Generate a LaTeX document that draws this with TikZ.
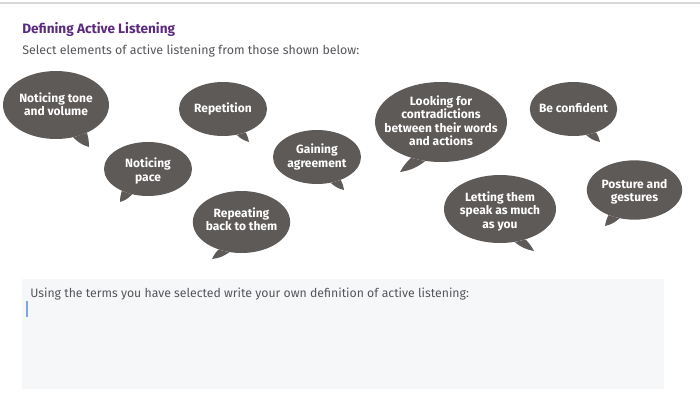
\documentclass[tikz,border=0pt]{standalone}
\usepackage{fontspec}
\setmainfont{Fira Sans}
\usetikzlibrary{shapes.geometric}
\definecolor{bubblegray}{HTML}{5E5A58}
\definecolor{titlepurple}{HTML}{5A2A7E}
\definecolor{bodygray}{HTML}{55565A}
\definecolor{panelgray}{HTML}{F6F7F9}
\definecolor{caretblue}{HTML}{7FA6E0}
\definecolor{rulegray}{HTML}{D8D8D8}
\tikzset{
  x=0.75pt,y=-0.75pt,
  bubble/.style={ellipse,fill=bubblegray,inner sep=0pt},
  bubblelabel/.style={text=white,inner sep=0pt,align=center,
    font=\fontsize{9pt}{10.1pt}\selectfont\bfseries},
  tailpart/.style={fill=bubblegray},
  titletext/.style={anchor=west,inner sep=0pt,text=titlepurple,font=\fontsize{10.2pt}{12pt}\selectfont\bfseries},
  bodytext/.style={anchor=west,inner sep=0pt,text=bodygray,font=\fontsize{9.3pt}{12pt}\selectfont},
}
\newcommand{\bubbletail}[4]{\fill[tailpart] (#1.#2) to[bend right=14] (#4) to[bend right=8] (#1.#3) -- cycle;}
\begin{document}
\begin{tikzpicture}
\useasboundingbox (0,0) rectangle (700,400);
\fill[rulegray] (0,2) rectangle (700,3.5);
\node[titletext] (title) at (22,29) {Defining Active Listening};
\node[bodytext] (sub) at (22,51) {Select elements of active listening from those shown below:};
\fill[panelgray] (22,279) rectangle (664,389);
\node[bodytext,font=\fontsize{9.2pt}{12pt}\selectfont] (prompt) at (30,294.5) {Using the terms you have selected write your own definition of active listening:};
\fill[caretblue] (26,300.5) rectangle (28.2,317);
% bubbles
\node[bubble,minimum width=79.5pt,minimum height=51pt,label={[bubblelabel,yshift=0.7pt]center:{Noticing tone\\and volume}}] (b1) at (56,105) {};
\node[bubble,minimum width=66pt,minimum height=40.5pt,label={[bubblelabel]center:{Repetition}}] (b2) at (223,109) {};
\node[bubble,minimum width=66pt,minimum height=40.5pt,label={[bubblelabel,yshift=-1.5pt]center:{Noticing\\pace}}] (b3) at (148,169) {};
\node[bubble,minimum width=66pt,minimum height=40.5pt,label={[bubblelabel]center:{Gaining\\agreement}}] (b4) at (317,157) {};
\node[bubble,minimum width=73pt,minimum height=46.5pt,label={[bubblelabel,yshift=2pt]center:{Repeating\\back to them}}] (b5) at (241.5,222) {};
\node[bubble,minimum width=99pt,minimum height=60pt,label={[bubblelabel,yshift=1pt]center:{Looking for\\contradictions\\between their words\\and actions}}] (b6) at (441,122) {};
\node[bubble,minimum width=65.5pt,minimum height=40.5pt,label={[bubblelabel,yshift=0.5pt]center:{Be confident}}] (b7) at (573.5,109) {};
\node[bubble,minimum width=84pt,minimum height=51pt,label={[bubblelabel,yshift=-1.5pt]center:{Letting them\\speak as much\\as you}}] (b8) at (500,209) {};
\node[bubble,minimum width=71.5pt,minimum height=44.5pt,label={[bubblelabel,yshift=-1.5pt]center:{Posture and\\gestures}}] (b9) at (634.5,190) {};
% tails
\coordinate (t1) at (89,147);
\coordinate (t2) at (249,142);
\coordinate (t3) at (120,202);
\coordinate (t4) at (344,190);
\coordinate (t5) at (212,259);
\coordinate (t6) at (400,172);
\coordinate (t7) at (600,142);
\coordinate (t8) at (534,251);
\coordinate (t9) at (605,226);
\bubbletail{b1}{-62}{-42}{t1}
\bubbletail{b2}{-62}{-46}{t2}
\bubbletail{b4}{-62}{-44}{t4}
\bubbletail{b7}{-64}{-46}{t7}
\bubbletail{b8}{-66}{-50}{t8}
\fill[tailpart] (b3.-122) to[bend left=14] (t3) to[bend left=8] (b3.-140) -- cycle;
\fill[tailpart] (b5.-112) to[bend left=14] (t5) to[bend left=8] (b5.-130) -- cycle;
\fill[tailpart] (b6.-112) to[bend left=14] (t6) to[bend left=8] (b6.-130) -- cycle;
\fill[tailpart] (b9.-118) to[bend left=14] (t9) to[bend left=8] (b9.-136) -- cycle;
\end{tikzpicture}
\end{document}
